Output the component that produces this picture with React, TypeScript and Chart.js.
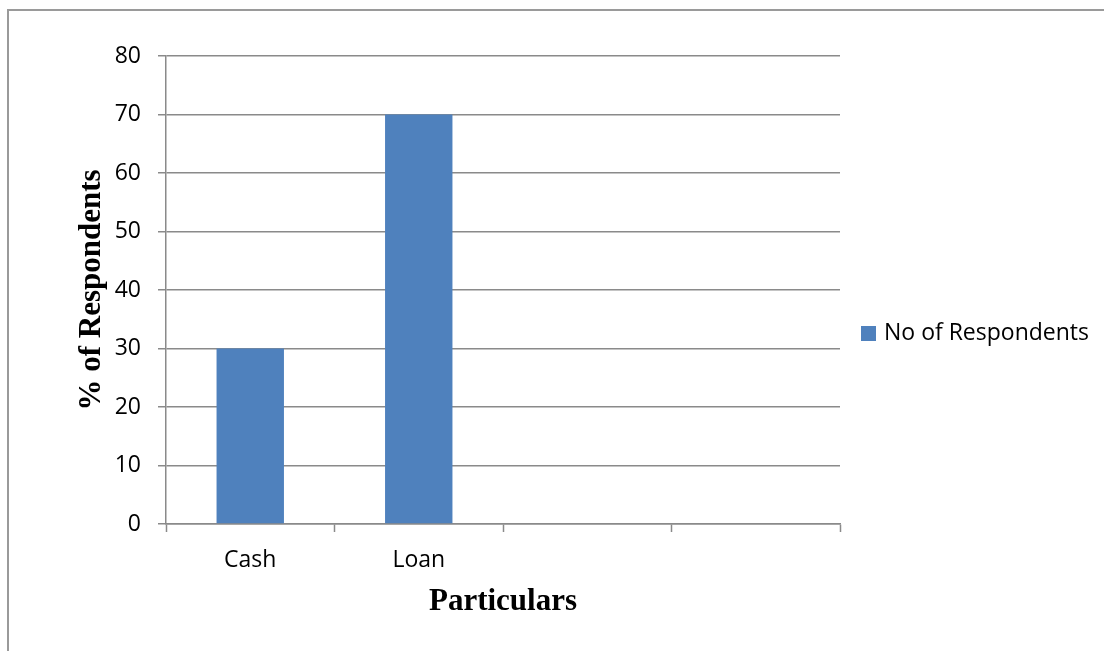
import React, { useEffect, useRef } from "react";
import { Chart, registerables } from "chart.js";

Chart.register(...registerables);

const categories = ["Cash", "Loan", "", ""];
const respondents = [30, 70, null, null];
const seriesLabel = "No of Respondents";
const yTitle = "% of Respondents";
const xTitle = "Particulars";

const AXIS_GRAY = "#8a8a8a";
const BAR_BLUE = "#4F81BD";
const TICK_FONT = { family: "'Open Sans', sans-serif", size: 23 };
const TITLE_FONT = { family: "'Liberation Serif', 'Times New Roman', serif", size: 31, weight: "bold" as const };

const legendPlugin = {
  id: "sideLegend",
  afterDraw(chart: any) {
    const { ctx, chartArea } = chart;
    const ds = chart.data.datasets[0];
    const x = chartArea.right + 21;
    const cy = 333.5;
    ctx.save();
    ctx.fillStyle = ds.backgroundColor;
    ctx.fillRect(x, cy - 7.5, 15, 15);
    ctx.fillStyle = "#000";
    ctx.font = `${TICK_FONT.size}px ${TICK_FONT.family}`;
    ctx.textBaseline = "middle";
    ctx.textAlign = "left";
    ctx.fillText(ds.label, x + 23, cy);
    ctx.restore();
  },
};

export default function App() {
  const ref = useRef<HTMLCanvasElement | null>(null);

  useEffect(() => {
    document.documentElement.style.overflow = "hidden";
    document.body.style.overflow = "hidden";
    const chart = new Chart(ref.current as HTMLCanvasElement, {
      type: "bar",
      data: {
        labels: categories,
        datasets: [
          {
            label: seriesLabel,
            data: respondents,
            backgroundColor: BAR_BLUE,
            borderWidth: 0,
            categoryPercentage: 1,
            barPercentage: 0.4,
          },
        ],
      },
      plugins: [legendPlugin],
      options: {
        responsive: false,
        animation: false,
        devicePixelRatio: 1,
        layout: { padding: { top: 56, right: 264, left: 0, bottom: 0 } },
        plugins: { legend: { display: false }, tooltip: { enabled: false } },
        scales: {
          x: {
            type: "category",
            offset: true,
            afterFit: (s: any) => {
              s.height = 127;
            },
            grid: {
              offset: true,
              drawOnChartArea: false,
              drawTicks: true,
              tickLength: 8,
              tickColor: AXIS_GRAY,
              tickWidth: 1.5,
            },
            border: { display: true, color: AXIS_GRAY, width: 1.5 },
            ticks: { color: "#000", font: TICK_FONT, padding: 15, maxRotation: 0, autoSkip: false },
            title: {
              display: true,
              text: xTitle,
              color: "#000",
              font: TITLE_FONT,
              padding: { top: 0, bottom: 30 },
            },
          },
          y: {
            min: 0,
            max: 80,
            afterFit: (s: any) => {
              s.width = 166;
            },
            ticks: { stepSize: 10, color: "#000", font: TICK_FONT, padding: 17 },
            grid: {
              color: AXIS_GRAY,
              lineWidth: 1.5,
              drawTicks: true,
              tickLength: 8,
              tickColor: AXIS_GRAY,
            },
            border: { display: true, color: AXIS_GRAY, width: 1.5 },
            title: {
              display: true,
              text: yTitle,
              color: "#000",
              font: TITLE_FONT,
              padding: { top: 73, bottom: 0 },
            },
          },
        },
      },
    });
    return () => chart.destroy();
  }, []);

  return (
    <div>
      <div
        style={{
          position: "fixed",
          left: 7,
          top: 9,
          width: 1200,
          height: 800,
          borderTop: "2px solid #9a9a9a",
          borderLeft: "2px solid #9a9a9a",
          boxSizing: "border-box",
        }}
      />
      <canvas
        ref={ref}
        width={1104}
        height={651}
        style={{ position: "fixed", left: 0, top: 0, width: 1104, height: 651 }}
      />
    </div>
  );
}
